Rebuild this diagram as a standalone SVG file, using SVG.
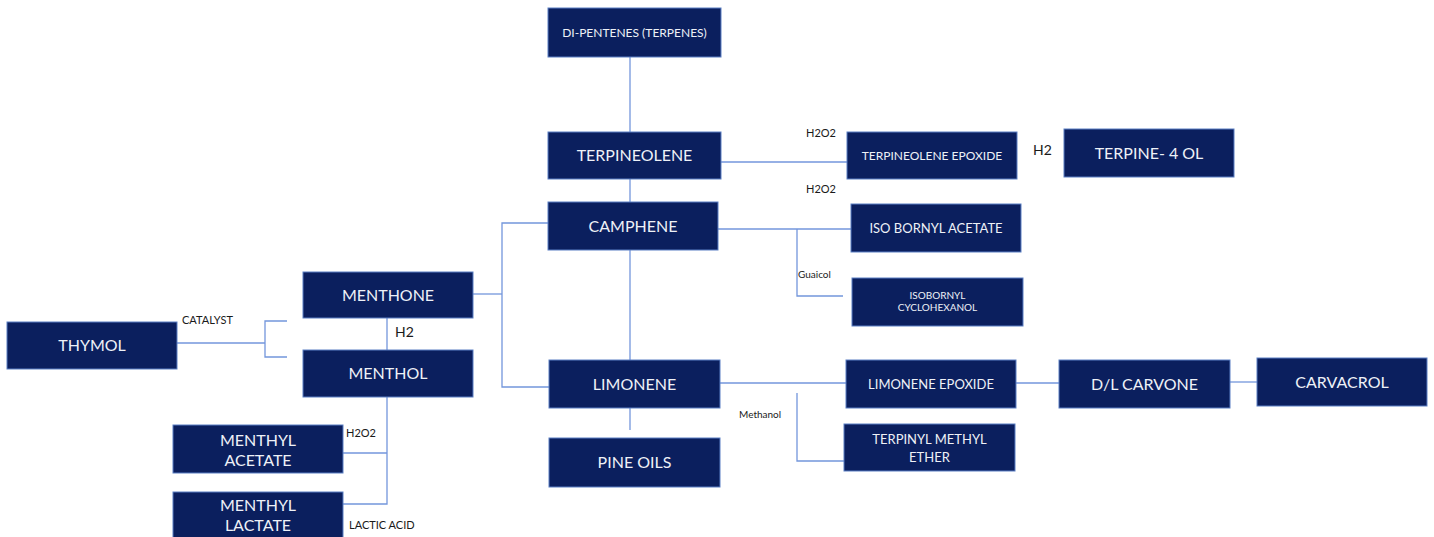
<svg xmlns="http://www.w3.org/2000/svg" width="1434" height="537" viewBox="0 0 1434 537">
  <style>
    .box { fill: #0b1f5e; stroke: #5a7fc4; stroke-width: 1; }
    .t { fill: #eef1f7; font-family: Lato, "Liberation Sans", sans-serif; text-anchor: middle; dominant-baseline: central; }
    .lg { font-size: 16px; }
    .md { font-size: 13px; }
    .sm { font-size: 12px; }
    .xs { font-size: 10px; }
    .lbl { fill: #1a1a1a; font-family: Lato, "Liberation Sans", sans-serif; font-size: 11px; }
    .conn { fill: none; stroke: #7396dc; stroke-width: 1.3; }
  </style>
  <rect width="1434" height="537" fill="#ffffff"/>

  <g id="connectors" class="conn">
    <path d="M630 57V132"/>
    <path d="M630 179V202"/>
    <path d="M630 250V360"/>
    <path d="M630 408V430"/>
    <path d="M721 162H847"/>
    <path d="M718 229H851"/>
    <path d="M797 229V296H843"/>
    <path d="M720 383H846"/>
    <path d="M797 393V461H844"/>
    <path d="M1016 383H1059"/>
    <path d="M1230 382H1257"/>
    <path d="M473 294H502"/>
    <path d="M548 223H502V387H549"/>
    <path d="M177 343H265"/>
    <path d="M287 321H265V357H287"/>
    <path d="M387 318V350"/>
    <path d="M387 397V504H343"/>
    <path d="M343 453H387"/>
  </g>

  <g id="dipentenes"><rect class="box" x="548" y="8" width="173" height="49"/><text class="t sm" x="634.5" y="32">DI-PENTENES (TERPENES)</text></g>
  <g id="terpineolene"><rect class="box" x="548" y="132" width="173" height="47"/><text class="t lg" x="634.5" y="154.5">TERPINEOLENE</text></g>
  <g id="camphene"><rect class="box" x="548" y="202" width="170" height="48"/><text class="t lg" x="633" y="225">CAMPHENE</text></g>
  <g id="limonene"><rect class="box" x="549" y="360" width="171" height="48"/><text class="t lg" x="634.5" y="383">LIMONENE</text></g>
  <g id="pine-oils"><rect class="box" x="549" y="438" width="171" height="49"/><text class="t lg" x="634.5" y="461.5">PINE OILS</text></g>

  <g id="terpineolene-epoxide"><rect class="box" x="847" y="132" width="170" height="47"/><text class="t sm" x="932" y="155">TERPINEOLENE EPOXIDE</text></g>
  <g id="terpine-4-ol"><rect class="box" x="1064" y="129" width="170" height="48"/><text class="t lg" x="1149" y="152">TERPINE- 4 OL</text></g>
  <g id="isobornyl-acetate"><rect class="box" x="851" y="204" width="170" height="48"/><text class="t md" x="936" y="227.5">ISO BORNYL ACETATE</text></g>
  <g id="isobornyl-cyclohexanol"><rect class="box" x="852" y="278" width="171" height="48"/><text class="t xs" x="937.5" y="294.5">ISOBORNYL</text><text class="t xs" x="937.5" y="306.5">CYCLOHEXANOL</text></g>
  <g id="limonene-epoxide"><rect class="box" x="846" y="360" width="170" height="48"/><text class="t md" x="931" y="383.5">LIMONENE EPOXIDE</text></g>
  <g id="terpinyl-methyl-ether"><rect class="box" x="844" y="424" width="171" height="47"/><text class="t md" x="929.5" y="438.5">TERPINYL METHYL</text><text class="t md" x="929.5" y="456.5">ETHER</text></g>
  <g id="dl-carvone"><rect class="box" x="1059" y="360" width="171" height="48"/><text class="t lg" x="1144.5" y="383">D/L CARVONE</text></g>
  <g id="carvacrol"><rect class="box" x="1257" y="358" width="170" height="48"/><text class="t lg" x="1342" y="381">CARVACROL</text></g>

  <g id="menthone"><rect class="box" x="303" y="272" width="170" height="46"/><text class="t lg" x="388" y="294">MENTHONE</text></g>
  <g id="menthol"><rect class="box" x="303" y="350" width="170" height="47"/><text class="t lg" x="388" y="372.5">MENTHOL</text></g>
  <g id="thymol"><rect class="box" x="7" y="322" width="170" height="47"/><text class="t lg" x="92" y="344.5">THYMOL</text></g>
  <g id="menthyl-acetate"><rect class="box" x="173" y="425" width="170" height="48"/><text class="t lg" x="258" y="439">MENTHYL</text><text class="t lg" x="258" y="459">ACETATE</text></g>
  <g id="menthyl-lactate"><rect class="box" x="173" y="492" width="170" height="50"/><text class="t lg" x="258" y="504">MENTHYL</text><text class="t lg" x="258" y="524">LACTATE</text></g>

  <g id="labels">
    <text class="lbl" x="806" y="137">H2O2</text>
    <text class="lbl" x="806" y="193">H2O2</text>
    <text class="lbl" x="1033" y="155" style="font-size:14px">H2</text>
    <text class="lbl" x="798" y="278" style="font-size:10px">Guaicol</text>
    <text class="lbl" x="739" y="418" style="font-size:10px">Methanol</text>
    <text class="lbl" x="182" y="324">CATALYST</text>
    <text class="lbl" x="395" y="337" style="font-size:14px">H2</text>
    <text class="lbl" x="346" y="437">H2O2</text>
    <text class="lbl" x="349" y="529">LACTIC ACID</text>
  </g>
</svg>
